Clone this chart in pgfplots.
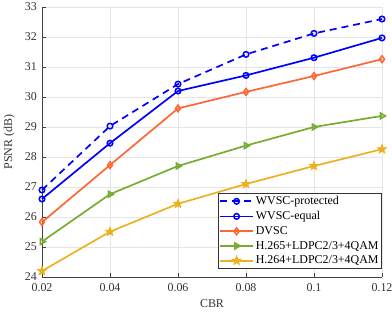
\documentclass[border=0pt]{standalone}
\usepackage{pgfplots}
\pgfplotsset{compat=1.18}
\usepackage{fontspec}
\setmainfont{Liberation Serif}
\definecolor{cblue}{RGB}{0,0,255}
\definecolor{corange}{RGB}{255,102,51}
\definecolor{cgreen}{RGB}{119,172,48}
\definecolor{cyellow}{RGB}{237,177,32}
\pgfdeclareplotmark{fstar}{%
  \pgfpathmoveto{\pgfpointpolar{90}{\pgfplotmarksize}}%
  \pgfpathlineto{\pgfpointpolar{126}{0.42\pgfplotmarksize}}%
  \pgfpathlineto{\pgfpointpolar{162}{\pgfplotmarksize}}%
  \pgfpathlineto{\pgfpointpolar{198}{0.42\pgfplotmarksize}}%
  \pgfpathlineto{\pgfpointpolar{234}{\pgfplotmarksize}}%
  \pgfpathlineto{\pgfpointpolar{270}{0.42\pgfplotmarksize}}%
  \pgfpathlineto{\pgfpointpolar{306}{\pgfplotmarksize}}%
  \pgfpathlineto{\pgfpointpolar{342}{0.42\pgfplotmarksize}}%
  \pgfpathlineto{\pgfpointpolar{18}{\pgfplotmarksize}}%
  \pgfpathlineto{\pgfpointpolar{54}{0.42\pgfplotmarksize}}%
  \pgfpathclose
  \pgfusepathqfillstroke}
\begin{document}
\fontsize{12}{14}\selectfont
\begin{tikzpicture}
\begin{axis}[
  scale only axis,
  width=340bp, height=270bp,
  xmin=0.02, xmax=0.12, ymin=24, ymax=33,
  xtick={0.02,0.04,0.06,0.08,0.1,0.12},
  xticklabels={0.02,0.04,0.06,0.08,0.1,0.12},
  ytick={24,25,...,33},
  axis x line*=bottom, axis y line*=left,
  axis line style={line width=0.8pt, black!75},
  grid=major,
  grid style={gray!20, line width=0.7pt},
  tick style={black!75, line width=0.8pt},
  /pgf/number format/assume math mode=true,
  ticklabel style={font=\fontsize{12}{14}\selectfont, text=black!80},
  xticklabel style={yshift=-2pt},
  yticklabel style={xshift=-1pt},
  label style={font=\fontsize{12}{14}\selectfont, text=black!80},
  xlabel={CBR}, ylabel={PSNR (dB)},
  ylabel style={yshift=2pt},
  clip=false,
  legend style={at={(1,0.03)}, anchor=south east, font=\fontsize{12}{14}\selectfont,
    draw=black!80, line width=0.8pt, inner sep=1pt, row sep=1pt, cells={anchor=west}},
  legend cell align=left,
  legend image code/.code={\draw[mark repeat=2,mark phase=2] plot coordinates {(0cm,0cm) (0.58cm,0cm) (1.16cm,0cm)};},
  every axis plot/.append style={line width=1.7pt},
]
\coordinate (O) at (rel axis cs:0,0);
\addplot[cblue, dash pattern=on 7pt off 5pt, mark=o, mark options={solid, line width=1.5pt, scale=1.4}]
  coordinates {(0.02,26.9) (0.04,29.03) (0.06,30.43) (0.08,31.42) (0.1,32.12) (0.12,32.6)};
\addlegendentry{WVSC-protected}
\addplot[cblue, mark=o, mark options={line width=1.5pt, scale=1.4}]
  coordinates {(0.02,26.6) (0.04,28.46) (0.06,30.2) (0.08,30.72) (0.1,31.31) (0.12,31.97)};
\addlegendentry{WVSC-equal}
\addplot[corange, mark=diamond, mark options={line width=1.5pt, scale=1.7}]
  coordinates {(0.02,25.83) (0.04,27.73) (0.06,29.62) (0.08,30.17) (0.1,30.7) (0.12,31.26)};
\addlegendentry{DVSC}
\addplot[cgreen, mark=triangle, mark options={rotate=-90, line width=1.6pt, scale=1.7}]
  coordinates {(0.02,25.18) (0.04,26.76) (0.06,27.7) (0.08,28.38) (0.1,29.0) (0.12,29.37)};
\addlegendentry{H.265+LDPC2/3+4QAM}
\addplot[cyellow, mark=fstar, mark options={line width=0.8pt, mark size=4.6pt, fill=cyellow}]
  coordinates {(0.02,24.2) (0.04,25.51) (0.06,26.44) (0.08,27.1) (0.1,27.7) (0.12,28.26)};
\addlegendentry{H.264+LDPC2/3+4QAM}
\end{axis}
\pgfresetboundingbox
\path[shift={(O)}] (-42bp,-41bp) rectangle (350bp,277bp);
\end{tikzpicture}
\end{document}
